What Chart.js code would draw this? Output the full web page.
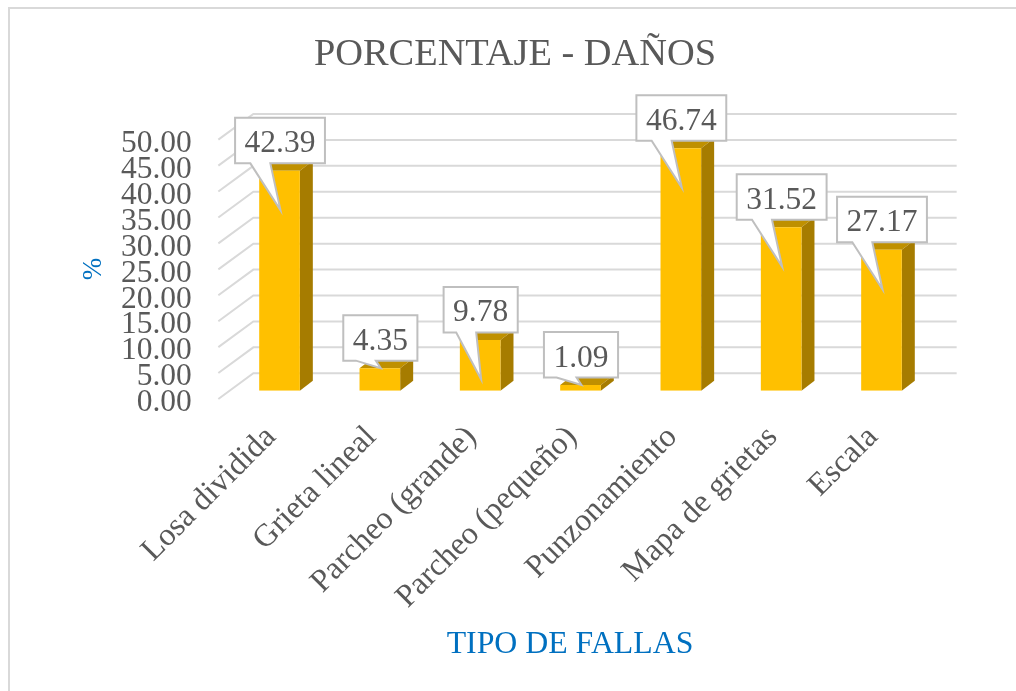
<!DOCTYPE html>
<html>
<head>
<meta charset="utf-8">
<title>Porcentaje - Daños</title>
<script src="https://cdn.jsdelivr.net/npm/chart.js@4"></script>
<style>
  html, body { margin: 0; padding: 0; background: #fff; overflow: hidden; }
  #page { position: relative; width: 1016px; height: 691px; overflow: hidden; }
  #frame { position: absolute; left: 8px; top: 7px; width: 1100px; height: 800px; border: 2px solid #d9d9d9; }
  #chart { position: absolute; left: 0; top: 0; }
</style>
</head>
<body>
<div id="page">
  <div id="frame"></div>
  <canvas id="chart" width="1016" height="691"></canvas>
</div>
<script>
const categories = ["Losa dividida", "Grieta lineal", "Parcheo (grande)", "Parcheo (pequeño)", "Punzonamiento", "Mapa de grietas", "Escala"];
const porcentaje = [42.39, 4.35, 9.78, 1.09, 46.74, 31.52, 27.17];
const chartTitle = "PORCENTAJE - DAÑOS";
const yAxisTitle = "%";
const xAxisTitle = "TIPO DE FALLAS";

const FONT = "'Liberation Serif', 'Times New Roman', serif";
const GREY = "#595959";
const BLUE = "#0070C0";
const GRID = "#d9d9d9";

// fake 3D offsets, excel style
const wallDx = 24, wallDy = -17.4;
const sideDx = 35, sideDy = 25.7;
const barDx = 13, barDy = -10;

const wallsAndDepth = {
  id: "wallsAndDepth",
  beforeDatasetsDraw(chart) {
    const { ctx, chartArea, scales } = chart;
    ctx.save();
    ctx.strokeStyle = GRID;
    ctx.lineWidth = 2;
    scales.y.ticks.forEach((t) => {
      const y = scales.y.getPixelForValue(t.value) + wallDy;
      const x = chartArea.left + wallDx;
      ctx.beginPath();
      ctx.moveTo(x - sideDx, y + sideDy);
      ctx.lineTo(x, y);
      ctx.lineTo(chartArea.right + 25, y);
      ctx.stroke();
    });
    chart.getDatasetMeta(0).data.forEach((bar) => {
      const half = bar.width / 2;
      const l = bar.x - half, r = bar.x + half;
      ctx.fillStyle = "#BF9000";
      ctx.beginPath();
      ctx.moveTo(l, bar.y);
      ctx.lineTo(l + barDx, bar.y + barDy);
      ctx.lineTo(r + barDx, bar.y + barDy);
      ctx.lineTo(r, bar.y);
      ctx.closePath();
      ctx.fill();
      ctx.fillStyle = "#A67C00";
      ctx.beginPath();
      ctx.moveTo(r, bar.y);
      ctx.lineTo(r + barDx, bar.y + barDy);
      ctx.lineTo(r + barDx, bar.base + barDy);
      ctx.lineTo(r, bar.base);
      ctx.closePath();
      ctx.fill();
    });
    ctx.restore();
  },
};

const callouts = {
  id: "callouts",
  afterDatasetsDraw(chart) {
    const { ctx } = chart;
    ctx.save();
    ctx.font = "31.5px " + FONT;
    ctx.textAlign = "center";
    ctx.textBaseline = "middle";
    chart.getDatasetMeta(0).data.forEach((bar, i) => {
      const label = porcentaje[i].toFixed(2);
      const w = ctx.measureText(label).width + 19;
      const h = 45.5;
      const x = bar.x + 0.5 - w / 2;
      const y = bar.y - 7.5 - h;
      const bottom = y + h;
      const tipY = bar.base - bar.y > 40 ? bar.y + 39.5 : bar.y;
      const baseL = x + w * 0.17;
      ctx.beginPath();
      ctx.moveTo(x, y);
      ctx.lineTo(x + w, y);
      ctx.lineTo(x + w, bottom);
      ctx.lineTo(baseL + 20, bottom);
      ctx.lineTo(bar.x + 1, tipY);
      ctx.lineTo(baseL, bottom);
      ctx.lineTo(x, bottom);
      ctx.closePath();
      ctx.fillStyle = "#fff";
      ctx.fill();
      ctx.strokeStyle = "#bfbfbf";
      ctx.lineWidth = 2;
      ctx.stroke();
      ctx.fillStyle = GREY;
      ctx.fillText(label, x + w / 2, y + h / 2 + 3.5);
    });
    ctx.restore();
  },
};

// axis titles sit off-center from the plot in the original, so placed by hand
const axisTitles = {
  id: "axisTitles",
  afterDraw(chart) {
    const { ctx } = chart;
    ctx.save();
    ctx.fillStyle = BLUE;
    ctx.textAlign = "center";
    ctx.textBaseline = "middle";
    ctx.font = "31.8px " + FONT;
    ctx.fillText(xAxisTitle, 570, 645);
    ctx.translate(94, 269);
    ctx.rotate(-Math.PI / 2);
    ctx.font = "27px " + FONT;
    ctx.fillText(yAxisTitle, 0, 0);
    ctx.restore();
  },
};

new Chart(document.getElementById("chart"), {
  type: "bar",
  data: {
    labels: categories,
    datasets: [
      {
        data: porcentaje,
        backgroundColor: "#FFC000",
        borderWidth: 0,
        barPercentage: 0.405,
        categoryPercentage: 1,
      },
    ],
  },
  options: {
    responsive: false,
    animation: false,
    // left padding also pulls the centered title over to x=515
    layout: { padding: { left: 98.35, right: 84.35, top: 0, bottom: 0 } },
    plugins: {
      legend: { display: false },
      tooltip: { enabled: false },
      title: {
        display: true,
        text: chartTitle,
        color: GREY,
        font: { family: FONT, size: 38.4, weight: "normal", lineHeight: 1.2 },
        padding: { top: 32, bottom: 53.3 },
      },
    },
    scales: {
      x: {
        grid: { display: false },
        border: { display: false },
        ticks: {
          color: GREY,
          font: { family: FONT, size: 32 },
          minRotation: 45,
          maxRotation: 45,
          autoSkip: false,
          padding: 20,
          labelOffset: -8.5,
        },
        afterFit: (scale) => { scale.height = 300.3; },
      },
      y: {
        min: 0,
        max: 50,
        grid: { display: false, drawTicks: false },
        border: { display: false },
        ticks: {
          stepSize: 5,
          color: GREY,
          font: { family: FONT, size: 31.5 },
          autoSkip: false,
          padding: 37.5,
          labelOffset: 12.3,
          callback: (value) => value.toFixed(2),
        },
        afterFit: (scale) => { scale.width = 131; },
      },
    },
  },
  plugins: [wallsAndDepth, callouts, axisTitles],
});
</script>
</body>
</html>
